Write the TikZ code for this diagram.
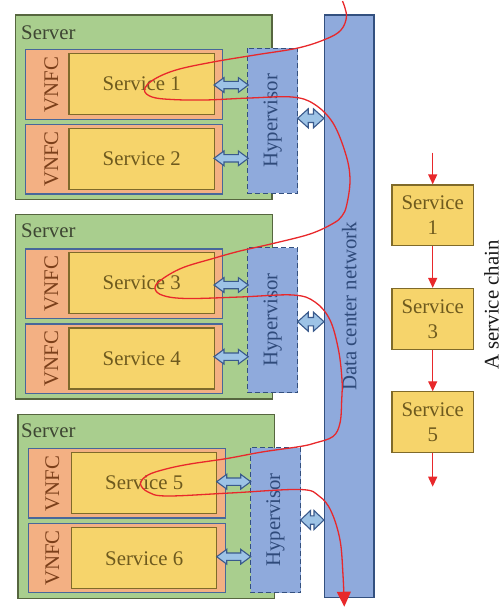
\documentclass[tikz,border=0pt]{standalone}
\usepackage{fontspec}
\setmainfont{Liberation Serif}
\usetikzlibrary{arrows.meta}
\definecolor{serverfill}{HTML}{A9CE8E}
\definecolor{serverline}{HTML}{56663F}
\definecolor{servertext}{HTML}{3E4633}
\definecolor{vnfcfill}{HTML}{F3B083}
\definecolor{vnfcline}{HTML}{48679A}
\definecolor{vnfctext}{HTML}{7B3F1A}
\definecolor{svcfill}{HTML}{F6D46B}
\definecolor{svcline}{HTML}{7F6A2A}
\definecolor{svctext}{HTML}{6E5A1E}
\definecolor{hypfill}{HTML}{8FAADC}
\definecolor{hypline}{HTML}{33507F}
\definecolor{hyptext}{HTML}{2F4A7A}
\definecolor{arrfill}{HTML}{9DC3E6}
\definecolor{arrline}{HTML}{3A5A8C}
\definecolor{redline}{HTML}{E8282B}
\newcommand{\bigtxt}{\fontsize{20.8}{25}\selectfont}
% block double arrow: left tip x, right tip x, y, half head, half shaft, head length
\newcommand{\dblarr}[6]{%
  \draw[blockarrow] (#1,#3) -- ({#1+#6},{#3-#4}) -- ({#1+#6},{#3-#5}) -- ({#2-#6},{#3-#5}) -- ({#2-#6},{#3-#4}) -- (#2,#3) -- ({#2-#6},{#3+#4}) -- ({#2-#6},{#3+#5}) -- ({#1+#6},{#3+#5}) -- ({#1+#6},{#3+#4}) -- cycle;}
\tikzset{
  server/.style={draw=serverline, fill=serverfill, line width=1.2pt, inner sep=0pt, minimum width=256.5pt, minimum height=184.5pt},
  servertitle/.style={anchor=base west, inner sep=0pt, text=servertext, font=\bigtxt},
  vnfcbox/.style={draw=vnfcline, fill=vnfcfill, line width=1.2pt, inner sep=0pt, minimum width=197pt, minimum height=69.5pt},
  vnfclabel/.style={rotate=90, inner sep=0pt, text=vnfctext, font=\bigtxt},
  svcbox/.style={draw=svcline, fill=svcfill, line width=1.2pt, inner sep=0pt, minimum width=145.3pt, minimum height=61pt, text=svctext, font=\bigtxt},
  hypbox/.style={draw=hypline, fill=hypfill, line width=1.4pt, dash pattern=on 5pt off 3pt, rotate=90, inner sep=0pt, minimum width=145pt, minimum height=50pt, text=hyptext, font=\bigtxt},
  dcnbox/.style={draw=hypline, fill=hypfill, line width=1.2pt, rotate=90, inner sep=0pt, minimum width=582.7pt, minimum height=49.7pt, text=hyptext, font=\bigtxt},
  blockarrow/.style={draw=arrline, fill=arrfill, line width=1.1pt, line join=miter},
  chainbox/.style={draw=svcline, fill=svcfill, line width=1.2pt, inner sep=0pt, minimum width=81.3pt, minimum height=60.7pt, align=center, text=svctext, font=\bigtxt},
  chainarrow/.style={draw=redline, line width=1.3pt, -{Triangle[width=9pt,length=10pt]}},
  flow/.style={draw=redline, line width=1.3pt, -{Triangle[width=14pt,length=15pt]}}
}
\begin{document}
\begin{tikzpicture}[x=1pt,y=-1pt]
\useasboundingbox (0,0) rectangle (502,608);
% servers
\node[server] (sv1) at (143.8,107.2) {};
\node[server] (sv2) at (144,306.7) {};
\node[server] (sv3) at (146.3,506.5) {};
\node[servertitle] (t1) at (21,39) {Server};
\node[servertitle] (t2) at (21,237.7) {Server};
\node[servertitle] (t3) at (21,437.7) {Server};
% VNFC boxes
\node[vnfcbox] (v1) at (123.8,84.5) {};
\node[vnfcbox] (v2) at (123.8,159.2) {};
\node[vnfcbox] (v3) at (123.8,283.8) {};
\node[vnfcbox] (v4) at (123.8,358.7) {};
\node[vnfcbox] (v5) at (126.7,483.3) {};
\node[vnfcbox] (v6) at (126.7,558) {};
\node[vnfclabel] (vl1) at (51.5,84.5) {VNFC};
\node[vnfclabel] (vl2) at (51.5,159.2) {VNFC};
\node[vnfclabel] (vl3) at (51.5,283.8) {VNFC};
\node[vnfclabel] (vl4) at (51.5,358.7) {VNFC};
\node[vnfclabel] (vl5) at (52.5,483.3) {VNFC};
\node[vnfclabel] (vl6) at (52.5,558) {VNFC};
% services
\node[svcbox] (s1) at (141.7,83.8) {Service 1};
\node[svcbox] (s2) at (141.7,159.2) {Service 2};
\node[svcbox] (s3) at (141.7,282.8) {Service 3};
\node[svcbox] (s4) at (141.7,358.5) {Service 4};
\node[svcbox] (s5) at (144.2,482.8) {Service 5};
\node[svcbox] (s6) at (144.2,558.3) {Service 6};
% hypervisors
\node[hypbox] (h1) at (272.7,120.8) {Hypervisor};
\node[hypbox] (h2) at (272.7,320) {Hypervisor};
\node[hypbox] (h3) at (275.5,520) {Hypervisor};
% data center network
\node[dcnbox] (dcn) at (349.2,306.4) {Data center network};
% double block arrows
\dblarr{214}{248.3}{85}{7.4}{3.7}{10}
\dblarr{214}{248.3}{158.3}{7.4}{3.7}{10}
\dblarr{214}{248.3}{285}{7.4}{3.7}{10}
\dblarr{214}{248.3}{356.7}{7.4}{3.7}{10}
\dblarr{216.7}{250.7}{481.7}{7.4}{3.7}{10}
\dblarr{216.7}{250.7}{556.7}{7.4}{3.7}{10}
\dblarr{297.7}{324}{118.3}{9.5}{4.2}{10.5}
\dblarr{297.7}{324}{321.7}{9.5}{4.2}{10.5}
\dblarr{300.5}{324}{520}{9.5}{4.2}{10}
% service chain
\node[chainbox] (c1) at (432.7,215.3) {Service\\1};
\node[chainbox] (c3) at (432.7,318.8) {Service\\3};
\node[chainbox] (c5) at (432.7,422.2) {Service\\5};
\coordinate (cin) at (432.7,152.7);
\coordinate (cout) at (432.7,486.7);
\draw[chainarrow] (cin) -- (c1);
\draw[chainarrow] (c1) -- (c3);
\draw[chainarrow] (c3) -- (c5);
\draw[chainarrow] (c5) -- (cout);
\node[rotate=90, inner sep=0pt, font=\bigtxt, text=black!90] (chain) at (491.5,305) {A service chain};
% red flow path
\draw[flow] plot[smooth, tension=0.6] coordinates {
(342.5,1) (346.5,16) (341,30) (326,39) (298,48) (255,55) (213,62) (176,70) (153,80) (144.5,90) (152,97) (172,99.5) (205,100) (250,98) (292,97) (314,104) (333,123) (346,155) (350,180) (346.7,205) (342,216) (333,223.5) (310,234) (273,243.5) (240,251) (213,258.5) (182,268) (161,280) (155,288.5) (163,295.5) (187,298.5) (240,297) (293,295) (315,302) (330,320) (338.5,350) (342,380) (341.7,400) (340,423) (333,436.5) (315,443) (300,446.5) (262,452) (227,458.5) (190,464) (166,469) (148,475) (140.5,483.5) (148,492) (167,496) (230,493) (300,489.5) (319,496) (331,511) (340,540) (343,575) (344.3,606.7)};
\end{tikzpicture}
\end{document}
